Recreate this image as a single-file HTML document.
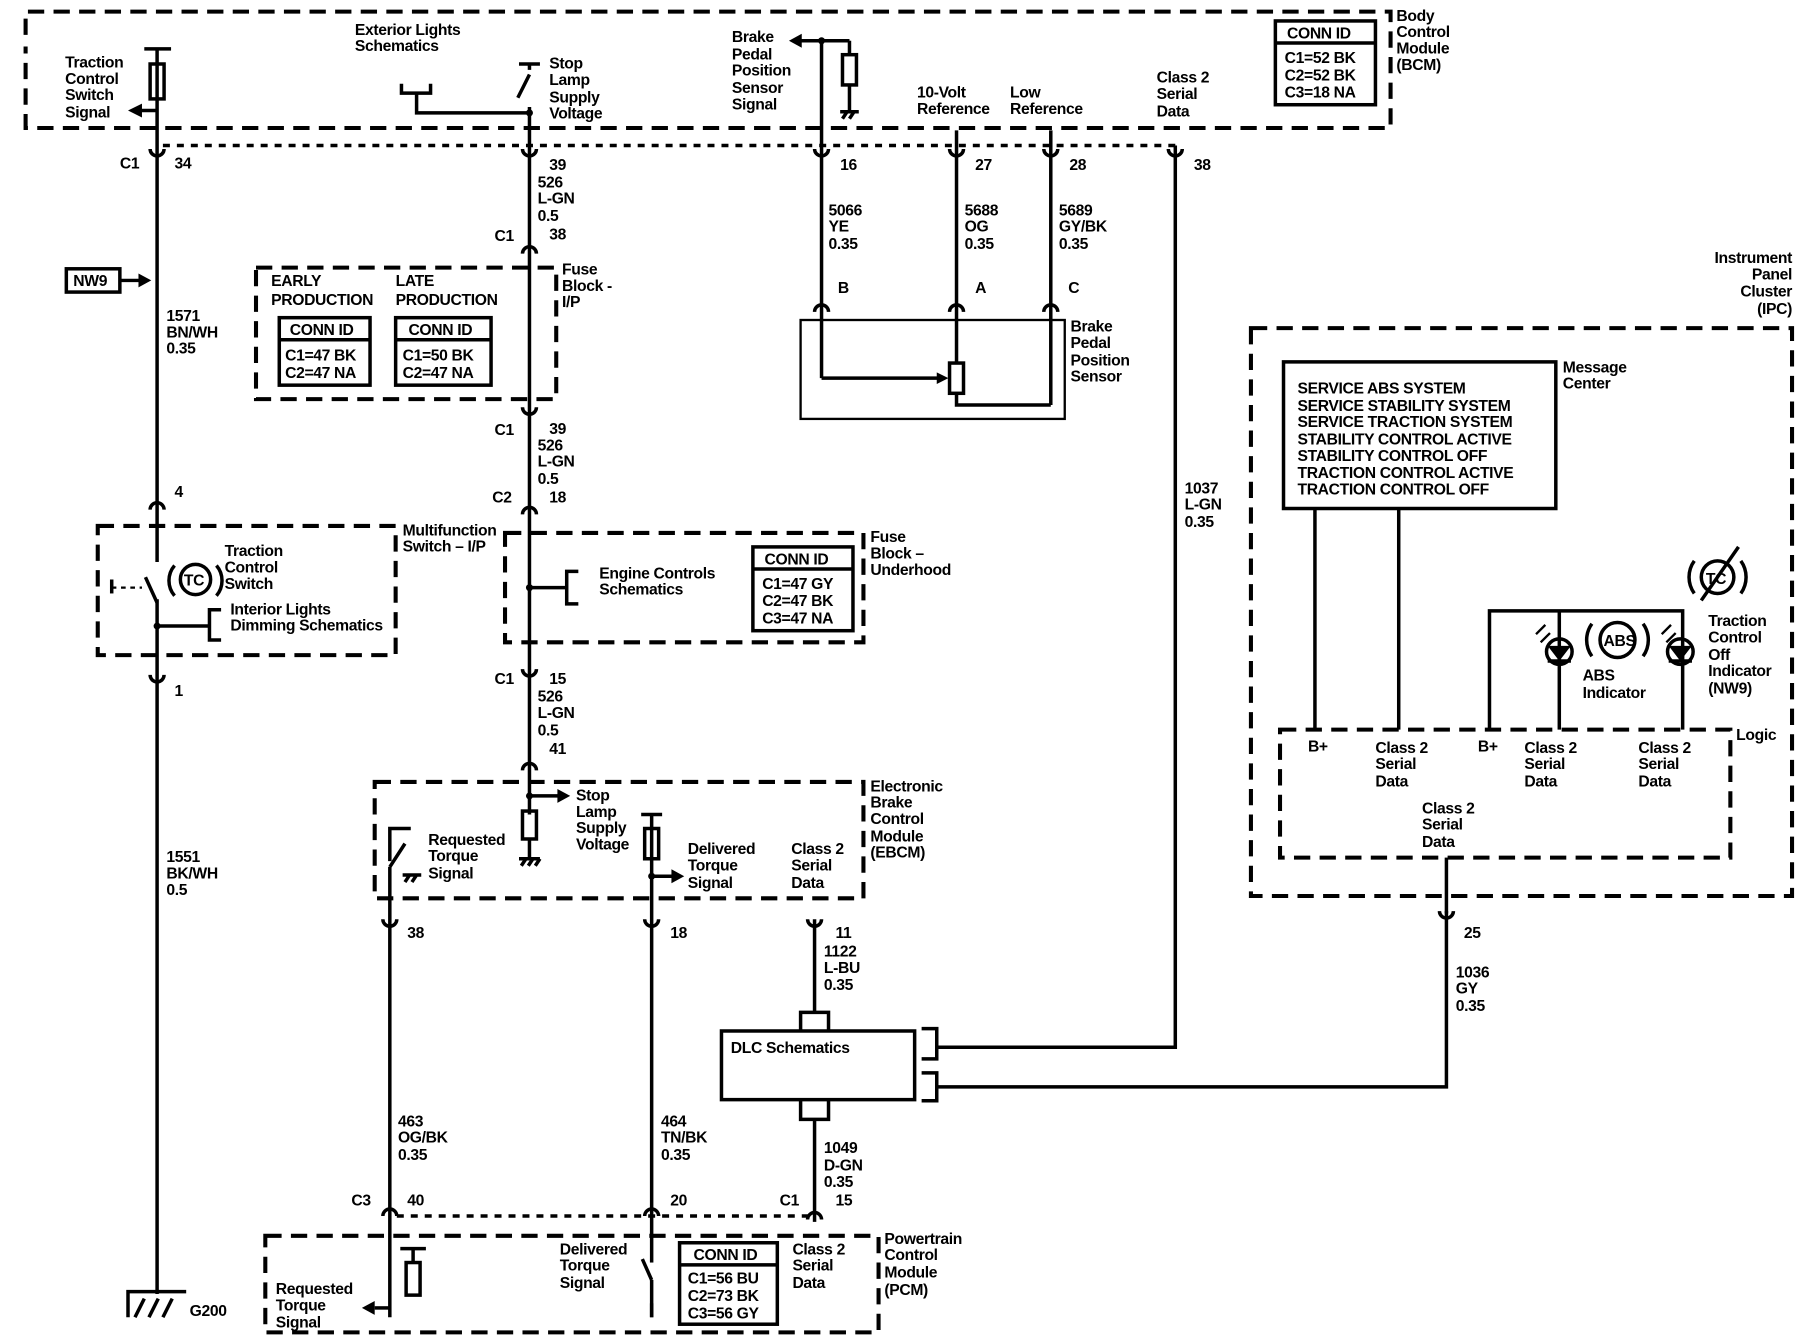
<!DOCTYPE html>
<html><head><meta charset="utf-8"><style>
html,body{margin:0;padding:0;background:#fff}
svg{display:block}
text{font-family:"Liberation Sans",Arial,sans-serif;font-size:13.5px;fill:#000;font-weight:bold;letter-spacing:-0.3px}
.w{stroke:#000;stroke-width:3;fill:none}
.t{stroke:#000;stroke-width:2;fill:none}
.d{stroke:#000;stroke-width:3.5;fill:none;stroke-dasharray:14 8}
.dd{stroke:#000;stroke-width:3;fill:none;stroke-dasharray:6 6}
</style></head><body>
<svg width="1806" height="1344" viewBox="0 0 1552 1155" preserveAspectRatio="none" xmlns="http://www.w3.org/2000/svg">
<rect width="1552" height="1155" fill="#fff"/>
<!-- BCM -->
<path class="d" d="M22,30 V10 H1195 V110 H22 V40"/>
<path class="dd" d="M140,125 H1010"/>
<rect x="1096" y="18" width="86" height="72" class="w"/>
<line x1="1096" y1="37" x2="1182" y2="37" class="w"/>
<text x="1106" y="33">CONN ID</text>
<text x="1104" y="54">C1=52 BK</text><text x="1104" y="69">C2=52 BK</text><text x="1104" y="84">C3=18 NA</text>
<text x="1200" y="18">Body</text><text x="1200" y="32">Control</text><text x="1200" y="46">Module</text><text x="1200" y="60">(BCM)</text>
<!-- wire 135 -->
<line class="w" x1="135" y1="42" x2="135" y2="1112"/>
<line class="w" x1="124" y1="42" x2="147" y2="42"/>
<rect x="129" y="55" width="12" height="30" fill="#fff" class="w"/>
<line class="w" x1="135" y1="95" x2="120" y2="95"/><path d="M110,95 L122,89 L122,101Z"/>
<text x="56" y="58">Traction</text><text x="56" y="72">Control</text><text x="56" y="86">Switch</text><text x="56" y="101">Signal</text>
<text x="103" y="145">C1</text><text x="150" y="145">34</text>
<rect x="57" y="231" width="46" height="20" class="w"/><text x="63" y="246">NW9</text>
<line class="w" x1="103" y1="241" x2="120" y2="241"/><path d="M130,241 L119,235 L119,247Z"/>
<text x="143" y="276">1571</text><text x="143" y="290">BN/WH</text><text x="143" y="304">0.35</text>
<text x="150" y="427">4</text>
<!-- multifunction -->
<path class="d" d="M84,452 H340 V563 H84 Z"/>
<text x="346" y="460">Multifunction</text><text x="346" y="474">Switch – I/P</text>
<line x1="135" y1="483" x2="135" y2="515" stroke="#fff" stroke-width="6"/>
<line class="w" x1="135" y1="518" x2="125" y2="496"/>
<path class="t" d="M96,505 H122" stroke-dasharray="4 4"/><line class="w" x1="96" y1="498" x2="96" y2="510"/>
<circle cx="168" cy="498" r="13" class="w"/><text x="158" y="503" font-size="12">TC</text>
<path class="w" d="M150,486 A20,20 0 0 0 150,512 M186,486 A20,20 0 0 1 186,512"/>
<text x="193" y="478">Traction</text><text x="193" y="492">Control</text><text x="193" y="506">Switch</text>
<circle cx="135" cy="538" r="3"/><line class="w" x1="135" y1="538" x2="180" y2="538"/>
<path class="w" d="M190,524 H180 V550 H190"/>
<text x="198" y="528">Interior Lights</text><text x="198" y="542">Dimming Schematics</text>
<text x="150" y="598">1</text>
<text x="143" y="741">1551</text><text x="143" y="755">BK/WH</text><text x="143" y="769">0.5</text>
<path class="w" d="M110,1132 V1110 H160 M116,1132 L124,1116 M128,1132 L136,1116 M140,1132 L148,1116"/>
<text x="163" y="1131">G200</text>
<!-- pins -->
<g class="w">
<path d="M129,128 A6,6 0 0 0 141,128"/><path d="M449,128 A6,6 0 0 0 461,128"/><path d="M700,128 A6,6 0 0 0 712,128"/><path d="M816,128 A6,6 0 0 0 828,128"/><path d="M897,128 A6,6 0 0 0 909,128"/><path d="M1004,128 A6,6 0 0 0 1016,128"/>
<path d="M449,218 A6,6 0 0 1 461,218"/><path d="M449,350 A6,6 0 0 0 461,350"/><path d="M449,442 A6,6 0 0 1 461,442"/>
<path d="M129,438 A6,6 0 0 1 141,438"/><path d="M129,580 A6,6 0 0 0 141,580"/>
<path d="M449,575 A6,6 0 0 0 461,575"/><path d="M449,662 A6,6 0 0 1 461,662"/>
<path d="M700,268 A6,6 0 0 1 712,268"/><path d="M816,268 A6,6 0 0 1 828,268"/><path d="M897,268 A6,6 0 0 1 909,268"/>
<path d="M329,790 A6,6 0 0 0 341,790"/><path d="M554,790 A6,6 0 0 0 566,790"/><path d="M694,790 A6,6 0 0 0 706,790"/>
<path d="M1237,783 A6,6 0 0 0 1249,783"/>
<path d="M329,1045 A6,6 0 0 1 341,1045"/><path d="M554,1045 A6,6 0 0 1 566,1045"/><path d="M694,1048 A6,6 0 0 1 706,1048"/>
</g>
<!-- wire 455 -->
<line class="w" x1="455" y1="55" x2="455" y2="700"/>
<line class="w" x1="446" y1="55" x2="464" y2="55"/>
<line x1="455" y1="60" x2="455" y2="92" stroke="#fff" stroke-width="6"/>
<line class="w" x1="455" y1="64" x2="445" y2="84"/>
<circle cx="455" cy="97" r="3"/><path class="w" d="M455,97 H358 V80 M345,72 V80 H370 V72"/>
<text x="305" y="30">Exterior Lights</text><text x="305" y="44">Schematics</text>
<text x="472" y="59">Stop</text><text x="472" y="73">Lamp</text><text x="472" y="88">Supply</text><text x="472" y="102">Voltage</text>
<text x="472" y="146">39</text><text x="462" y="161">526</text><text x="462" y="175">L-GN</text><text x="462" y="190">0.5</text>
<text x="425" y="207">C1</text><text x="472" y="206">38</text>
<path class="d" d="M220,230 H478 V343 H220 Z"/>
<text x="483" y="236">Fuse</text><text x="483" y="250">Block -</text><text x="483" y="264">I/P</text>
<text x="233" y="246">EARLY</text><text x="233" y="262">PRODUCTION</text><text x="340" y="246">LATE</text><text x="340" y="262">PRODUCTION</text>
<rect x="240" y="273" width="78" height="58" class="w"/><line class="w" x1="240" y1="292" x2="318" y2="292"/>
<text x="249" y="288">CONN ID</text><text x="245" y="310">C1=47 BK</text><text x="245" y="325">C2=47 NA</text>
<rect x="340" y="273" width="82" height="58" class="w"/><line class="w" x1="340" y1="292" x2="422" y2="292"/>
<text x="351" y="288">CONN ID</text><text x="346" y="310">C1=50 BK</text><text x="346" y="325">C2=47 NA</text>
<text x="425" y="374">C1</text><text x="472" y="373">39</text><text x="462" y="387">526</text><text x="462" y="401">L-GN</text><text x="462" y="416">0.5</text>
<text x="423" y="432">C2</text><text x="472" y="432">18</text>
<path class="d" d="M434,458 H742 V552 H434 Z"/>
<text x="748" y="466">Fuse</text><text x="748" y="480">Block –</text><text x="748" y="494">Underhood</text>
<circle cx="455" cy="505" r="3"/><line class="w" x1="455" y1="505" x2="487" y2="505"/><path class="w" d="M497,491 H487 V519 H497"/>
<text x="515" y="497">Engine Controls</text><text x="515" y="511">Schematics</text>
<rect x="647" y="470" width="86" height="72" class="w"/><line class="w" x1="647" y1="489" x2="733" y2="489"/>
<text x="657" y="485">CONN ID</text><text x="655" y="506">C1=47 GY</text><text x="655" y="521">C2=47 BK</text><text x="655" y="536">C3=47 NA</text>
<text x="425" y="588">C1</text><text x="472" y="588">15</text><text x="462" y="603">526</text><text x="462" y="617">L-GN</text><text x="462" y="632">0.5</text><text x="472" y="648">41</text>
<!-- EBCM -->
<path class="d" d="M322,672 H742 V772 H322 Z"/>
<text x="748" y="680">Electronic</text><text x="748" y="694">Brake</text><text x="748" y="708">Control</text><text x="748" y="723">Module</text><text x="748" y="737">(EBCM)</text>
<circle cx="455" cy="684" r="3"/><line class="w" x1="455" y1="684" x2="480" y2="684"/><path d="M490,684 L479,678 L479,690Z"/>
<rect x="449" y="697" width="12" height="24" class="w" fill="#fff"/>
<path class="w" d="M455,721 V738 M446,738 H464 M448,744 l4,-6 M454,744 l4,-6 M460,744 l4,-6"/>
<text x="495" y="688">Stop</text><text x="495" y="702">Lamp</text><text x="495" y="716">Supply</text><text x="495" y="730">Voltage</text>
<path class="w" d="M335,740 V712 H353"/><line class="w" x1="335" y1="745" x2="348" y2="725"/>
<path class="w" d="M346,752 H362 M348,758 l4,-6 M354,758 l4,-6"/>
<text x="368" y="726">Requested</text><text x="368" y="740">Torque</text><text x="368" y="755">Signal</text>
<line class="w" x1="335" y1="745" x2="335" y2="1132"/>
<line class="w" x1="560" y1="700" x2="560" y2="1132"/>
<line class="w" x1="551" y1="700" x2="569" y2="700"/>
<rect x="554" y="712" width="12" height="26" class="w" fill="#fff"/>
<line class="w" x1="560" y1="753" x2="578" y2="753"/><path d="M588,753 L577,747 L577,759Z"/><circle cx="560" cy="753" r="3"/>
<text x="591" y="734">Delivered</text><text x="591" y="748">Torque</text><text x="591" y="763">Signal</text>
<text x="680" y="734">Class 2</text><text x="680" y="748">Serial</text><text x="680" y="763">Data</text>
<text x="350" y="806">38</text><text x="576" y="806">18</text><text x="718" y="806">11</text>
<text x="708" y="822">1122</text><text x="708" y="836">L-BU</text><text x="708" y="851">0.35</text>
<text x="342" y="968">463</text><text x="342" y="982">OG/BK</text><text x="342" y="997">0.35</text>
<text x="568" y="968">464</text><text x="568" y="982">TN/BK</text><text x="568" y="997">0.35</text>
<!-- DLC -->
<line class="w" x1="700" y1="790" x2="700" y2="870"/><path class="w" d="M688,886 V870 H712 V886"/>
<rect x="620" y="886" width="166" height="59" class="w"/>
<text x="628" y="905">DLC Schematics</text>
<path class="w" d="M688,945 V962 H712 V945"/><line class="w" x1="700" y1="962" x2="700" y2="1050"/>
<path class="w" d="M792,884 H805 V910 H792 M792,922 H805 V946 H792"/>
<path class="w" d="M805,900 H1010 V125"/><path class="w" d="M805,934 H1243 V783"/>
<text x="708" y="991">1049</text><text x="708" y="1006">D-GN</text><text x="708" y="1020">0.35</text>
<text x="670" y="1036">C1</text><text x="718" y="1036">15</text>
<text x="302" y="1036">C3</text><text x="350" y="1036">40</text><text x="576" y="1036">20</text>
<!-- PCM -->
<path class="dd" d="M341,1045 H694"/>
<path class="d" d="M228,1062 H755 V1145 H228 Z"/>
<text x="760" y="1069">Powertrain</text><text x="760" y="1083">Control</text><text x="760" y="1098">Module</text><text x="760" y="1113">(PCM)</text>
<line class="w" x1="344" y1="1073" x2="366" y2="1073"/><rect x="349" y="1085" width="12" height="28" class="w" fill="#fff"/><line class="w" x1="355" y1="1073" x2="355" y2="1085"/>
<path class="w" d="M335,1124 H322"/><path d="M311,1124 L322,1118 L322,1130Z"/>
<text x="237" y="1112">Requested</text><text x="237" y="1126">Torque</text><text x="237" y="1141">Signal</text>
<line x1="560" y1="1085" x2="560" y2="1100" stroke="#fff" stroke-width="6"/><line class="w" x1="560" y1="1100" x2="552" y2="1082"/>
<path class="w" d="M560,1132 V1120"/>
<text x="481" y="1078">Delivered</text><text x="481" y="1092">Torque</text><text x="481" y="1107">Signal</text>
<rect x="584" y="1068" width="84" height="70" class="w"/><line class="w" x1="584" y1="1087" x2="668" y2="1087"/>
<text x="596" y="1083">CONN ID</text><text x="591" y="1103">C1=56 BU</text><text x="591" y="1118">C2=73 BK</text><text x="591" y="1133">C3=56 GY</text>
<text x="681" y="1078">Class 2</text><text x="681" y="1092">Serial</text><text x="681" y="1107">Data</text>
<!-- brake pedal sensor -->
<line class="w" x1="706" y1="35" x2="706" y2="325"/>
<line class="w" x1="706" y1="35" x2="688" y2="35"/><path d="M678,35 L689,29 L689,41Z"/>
<line class="w" x1="706" y1="35" x2="730" y2="35"/><line class="w" x1="730" y1="35" x2="730" y2="47"/>
<rect x="724" y="47" width="12" height="26" class="w" fill="#fff"/>
<path class="w" d="M730,73 V96 M722,96 H738 M724,102 l4,-6 M730,102 l4,-6"/>
<circle cx="706" cy="35" r="3"/>
<text x="629" y="36">Brake</text><text x="629" y="51">Pedal</text><text x="629" y="65">Position</text><text x="629" y="80">Sensor</text><text x="629" y="94">Signal</text>
<text x="722" y="146">16</text><text x="712" y="185">5066</text><text x="712" y="199">YE</text><text x="712" y="214">0.35</text>
<line class="w" x1="822" y1="112" x2="822" y2="312"/>
<line class="w" x1="903" y1="112" x2="903" y2="348"/>
<text x="788" y="84">10-Volt</text><text x="788" y="98">Reference</text>
<text x="868" y="84">Low</text><text x="868" y="98">Reference</text>
<text x="994" y="71">Class 2</text><text x="994" y="85">Serial</text><text x="994" y="100">Data</text>
<text x="838" y="146">27</text><text x="919" y="146">28</text><text x="1026" y="146">38</text>
<text x="829" y="185">5688</text><text x="829" y="199">OG</text><text x="829" y="214">0.35</text>
<text x="910" y="185">5689</text><text x="910" y="199">GY/BK</text><text x="910" y="214">0.35</text>
<text x="720" y="252">B</text><text x="838" y="252">A</text><text x="918" y="252">C</text>
<rect x="688" y="275" width="227" height="85" class="t"/>
<path class="w" d="M706,325 H806"/><path d="M815,325 L805,320 L805,330Z"/>
<rect x="816" y="312" width="12" height="26" class="w" fill="#fff"/>
<path class="w" d="M822,338 V348 H903"/>
<text x="920" y="285">Brake</text><text x="920" y="299">Pedal</text><text x="920" y="314">Position</text><text x="920" y="328">Sensor</text>
<text x="1018" y="424">1037</text><text x="1018" y="438">L-GN</text><text x="1018" y="453">0.35</text>
<!-- IPC -->
<text x="1540" y="226" text-anchor="end">Instrument</text><text x="1540" y="240" text-anchor="end">Panel</text><text x="1540" y="255" text-anchor="end">Cluster</text><text x="1540" y="270" text-anchor="end">(IPC)</text>
<path class="d" d="M1075,282 H1540 V770 H1075 Z"/>
<rect x="1103" y="311" width="234" height="126" class="w"/>
<text x="1343" y="320">Message</text><text x="1343" y="334">Center</text>
<text x="1115" y="338">SERVICE ABS SYSTEM</text><text x="1115" y="353">SERVICE STABILITY SYSTEM</text><text x="1115" y="367">SERVICE TRACTION SYSTEM</text><text x="1115" y="382">STABILITY CONTROL ACTIVE</text><text x="1115" y="396">STABILITY CONTROL OFF</text><text x="1115" y="411">TRACTION CONTROL ACTIVE</text><text x="1115" y="425">TRACTION CONTROL OFF</text>
<line class="w" x1="1130" y1="437" x2="1130" y2="627"/><line class="w" x1="1202" y1="437" x2="1202" y2="627"/>
<path class="w" d="M1280,627 V525 H1446 V627"/>
<line class="w" x1="1340" y1="525" x2="1340" y2="627"/>
<circle cx="1340" cy="560" r="11" class="w" fill="#fff"/><path d="M1330,555 H1350 L1340,568Z"/><line class="w" x1="1330" y1="568" x2="1350" y2="568"/>
<circle cx="1444" cy="560" r="11" class="w" fill="#fff"/><path d="M1434,555 H1454 L1444,568Z"/><line class="w" x1="1434" y1="568" x2="1454" y2="568"/>
<path class="t" d="M1320,545 l8,-8 M1324,552 l8,-8 M1428,545 l8,-8 M1432,552 l8,-8"/>
<circle cx="1390" cy="550" r="15" class="w"/><text x="1378" y="555" font-size="12">ABS</text>
<path class="w" d="M1368,536 A24,24 0 0 0 1368,564 M1412,536 A24,24 0 0 1 1412,564"/>
<text x="1360" y="585">ABS</text><text x="1360" y="600">Indicator</text>
<circle cx="1476" cy="496" r="14" class="w"/><text x="1466" y="502" font-size="13">TC</text>
<path class="w" d="M1456,482 A24,24 0 0 0 1456,510 M1496,482 A24,24 0 0 1 1496,510 M1462,516 L1494,470"/>
<text x="1468" y="538">Traction</text><text x="1468" y="552">Control</text><text x="1468" y="567">Off</text><text x="1468" y="581">Indicator</text><text x="1468" y="596">(NW9)</text>
<path class="d" d="M1100,627 H1487 V737 H1100 Z"/>
<text x="1492" y="636">Logic</text>
<text x="1124" y="646">B+</text><text x="1270" y="646">B+</text>
<text x="1182" y="647">Class 2</text><text x="1182" y="661">Serial</text><text x="1182" y="676">Data</text>
<text x="1310" y="647">Class 2</text><text x="1310" y="661">Serial</text><text x="1310" y="676">Data</text>
<text x="1408" y="647">Class 2</text><text x="1408" y="661">Serial</text><text x="1408" y="676">Data</text>
<text x="1222" y="699">Class 2</text><text x="1222" y="713">Serial</text><text x="1222" y="728">Data</text>
<line class="w" x1="1243" y1="737" x2="1243" y2="785"/>
<text x="1258" y="806">25</text><text x="1251" y="840">1036</text><text x="1251" y="854">GY</text><text x="1251" y="869">0.35</text>
</svg>
</body></html>
